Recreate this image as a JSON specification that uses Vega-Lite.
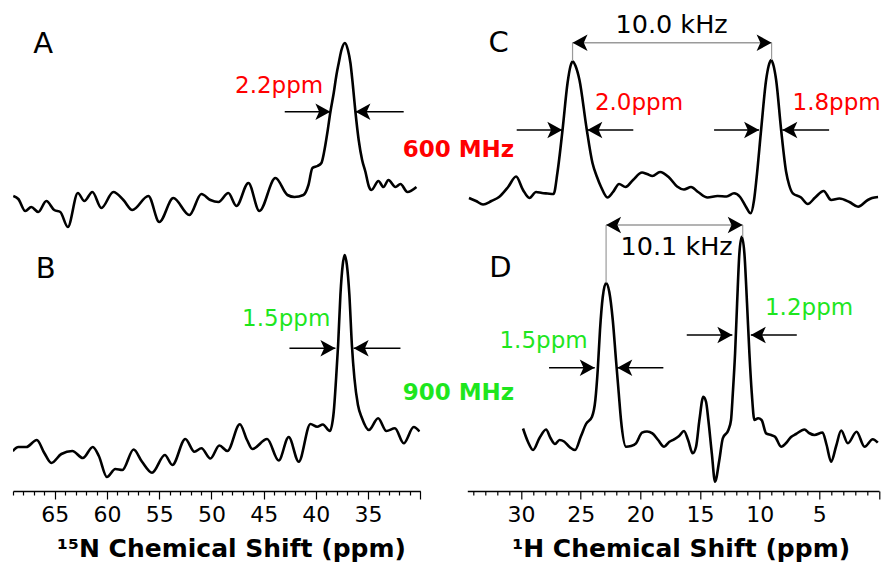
{
  "$schema": "https://vega.github.io/schema/vega-lite/v6.json",
  "background": "white",
  "padding": {"left": 12, "top": 11, "right": 5, "bottom": 5},
  "bounds": "flush",
  "spacing": 46.3,
  "config": {
    "view": {"stroke": null},
    "axis": {
      "domainColor": "black", "domainWidth": 1.5, "tickColor": "black", "tickWidth": 1.2,
      "labelFont": "DejaVu Sans", "labelFontSize": 22, "labelColor": "black",
      "titleFont": "DejaVu Sans", "titleFontSize": 25, "titleFontWeight": "bold", "titleColor": "black",
      "grid": false, "labelFlush": false, "labelOverlap": false, "labelPadding": 5
    }
  },
  "datasets": {
    "specL": [
      {"panel":"A","ppm":68.97,"inten":295},{"panel":"A","ppm":68.49,"inten":292},{"panel":"A","ppm":67.82,"inten":280},{"panel":"A","ppm":67.25,"inten":284},{"panel":"A","ppm":66.58,"inten":279},{"panel":"A","ppm":65.81,"inten":290},{"panel":"A","ppm":65.05,"inten":281},{"panel":"A","ppm":64.47,"inten":279},{"panel":"A","ppm":63.75,"inten":264},{"panel":"A","ppm":62.79,"inten":298},{"panel":"A","ppm":62.17,"inten":290},{"panel":"A","ppm":61.40,"inten":299},{"panel":"A","ppm":60.54,"inten":283},{"panel":"A","ppm":59.39,"inten":299},{"panel":"A","ppm":58.43,"inten":291},{"panel":"A","ppm":57.57,"inten":281},{"panel":"A","ppm":56.04,"inten":295},{"panel":"A","ppm":54.99,"inten":269},{"panel":"A","ppm":53.65,"inten":293},{"panel":"A","ppm":52.11,"inten":276},{"panel":"A","ppm":50.96,"inten":297},{"panel":"A","ppm":50.10,"inten":291},{"panel":"A","ppm":49.33,"inten":289},{"panel":"A","ppm":48.38,"inten":298},{"panel":"A","ppm":47.61,"inten":285},{"panel":"A","ppm":46.46,"inten":308},{"panel":"A","ppm":45.41,"inten":280},{"panel":"A","ppm":43.87,"inten":313},{"panel":"A","ppm":42.72,"inten":296},{"panel":"A","ppm":42.05,"inten":294},{"panel":"A","ppm":41.19,"inten":296},{"panel":"A","ppm":40.71,"inten":306},{"panel":"A","ppm":40.33,"inten":323},{"panel":"A","ppm":39.85,"inten":325},{"panel":"A","ppm":39.47,"inten":328},{"panel":"A","ppm":39.23,"inten":338},{"panel":"A","ppm":38.89,"inten":359},{"panel":"A","ppm":38.61,"inten":379},{"panel":"A","ppm":38.29,"inten":398},{"panel":"A","ppm":38.03,"inten":416},{"panel":"A","ppm":37.81,"inten":428},{"panel":"A","ppm":37.55,"inten":441},{"panel":"A","ppm":37.22,"inten":448},{"panel":"A","ppm":36.93,"inten":441},{"panel":"A","ppm":36.69,"inten":428},{"panel":"A","ppm":36.45,"inten":405},{"panel":"A","ppm":36.21,"inten":379},{"panel":"A","ppm":35.90,"inten":351},{"panel":"A","ppm":35.57,"inten":331},{"panel":"A","ppm":35.25,"inten":319},{"panel":"A","ppm":34.94,"inten":305},{"panel":"A","ppm":34.68,"inten":301},{"panel":"A","ppm":34.01,"inten":310},{"panel":"A","ppm":33.53,"inten":304},{"panel":"A","ppm":33.05,"inten":311},{"panel":"A","ppm":32.38,"inten":304},{"panel":"A","ppm":31.90,"inten":307},{"panel":"A","ppm":31.23,"inten":299},{"panel":"A","ppm":30.37,"inten":304},
      {"panel":"B","ppm":69.02,"inten":40},{"panel":"B","ppm":68.49,"inten":44},{"panel":"B","ppm":67.73,"inten":44},{"panel":"B","ppm":66.72,"inten":51},{"panel":"B","ppm":66.00,"inten":38},{"panel":"B","ppm":65.33,"inten":28},{"panel":"B","ppm":64.37,"inten":37},{"panel":"B","ppm":63.32,"inten":40},{"panel":"B","ppm":62.31,"inten":33},{"panel":"B","ppm":61.36,"inten":44},{"panel":"B","ppm":60.78,"inten":35},{"panel":"B","ppm":60.01,"inten":14},{"panel":"B","ppm":59.20,"inten":22},{"panel":"B","ppm":58.53,"inten":21},{"panel":"B","ppm":57.45,"inten":41.5},{"panel":"B","ppm":56.66,"inten":29.5},{"panel":"B","ppm":55.69,"inten":18.3},{"panel":"B","ppm":54.46,"inten":36},{"panel":"B","ppm":53.74,"inten":26},{"panel":"B","ppm":52.50,"inten":52},{"panel":"B","ppm":51.63,"inten":39.3},{"panel":"B","ppm":50.96,"inten":42.7},{"panel":"B","ppm":50.10,"inten":32.5},{"panel":"B","ppm":49.24,"inten":45.5},{"panel":"B","ppm":48.47,"inten":40},{"panel":"B","ppm":47.28,"inten":66.7},{"panel":"B","ppm":46.59,"inten":51},{"panel":"B","ppm":46.08,"inten":42},{"panel":"B","ppm":44.67,"inten":52},{"panel":"B","ppm":43.56,"inten":30.5},{"panel":"B","ppm":42.60,"inten":54},{"panel":"B","ppm":41.64,"inten":29.3},{"panel":"B","ppm":40.52,"inten":67},{"panel":"B","ppm":39.88,"inten":64.3},{"panel":"B","ppm":39.33,"inten":66.5},{"panel":"B","ppm":38.66,"inten":60},{"panel":"B","ppm":38.29,"inten":79},{"panel":"B","ppm":38.06,"inten":113},{"panel":"B","ppm":37.87,"inten":146},{"panel":"B","ppm":37.65,"inten":196},{"panel":"B","ppm":37.43,"inten":226},{"panel":"B","ppm":37.24,"inten":236},{"panel":"B","ppm":37.03,"inten":226},{"panel":"B","ppm":36.79,"inten":196},{"panel":"B","ppm":36.55,"inten":146},{"panel":"B","ppm":36.31,"inten":113},{"panel":"B","ppm":35.97,"inten":86},{"panel":"B","ppm":35.59,"inten":73},{"panel":"B","ppm":34.92,"inten":61},{"panel":"B","ppm":34.04,"inten":72.7},{"panel":"B","ppm":33.24,"inten":60},{"panel":"B","ppm":32.43,"inten":62.7},{"panel":"B","ppm":31.59,"inten":47.7},{"panel":"B","ppm":30.63,"inten":64},{"panel":"B","ppm":30.08,"inten":59.5}
    ],
    "specR": [
      {"panel":"C","ppm":34.36,"inten":293},{"panel":"C","ppm":33.77,"inten":290},{"panel":"C","ppm":33.18,"inten":286.5},{"panel":"C","ppm":32.48,"inten":290},{"panel":"C","ppm":31.84,"inten":294},{"panel":"C","ppm":31.08,"inten":304},{"panel":"C","ppm":30.41,"inten":314.5},{"panel":"C","ppm":29.83,"inten":301},{"panel":"C","ppm":29.29,"inten":293},{"panel":"C","ppm":28.74,"inten":299},{"panel":"C","ppm":28.24,"inten":298},{"panel":"C","ppm":27.78,"inten":297.5},{"panel":"C","ppm":27.27,"inten":297},{"panel":"C","ppm":26.94,"inten":319},{"panel":"C","ppm":26.52,"inten":361},{"panel":"C","ppm":26.10,"inten":408},{"panel":"C","ppm":25.85,"inten":425},{"panel":"C","ppm":25.66,"inten":429.5},{"panel":"C","ppm":25.43,"inten":425},{"panel":"C","ppm":25.10,"inten":411},{"panel":"C","ppm":24.51,"inten":363},{"panel":"C","ppm":24.01,"inten":328},{"panel":"C","ppm":23.63,"inten":314},{"panel":"C","ppm":23.29,"inten":304},{"panel":"C","ppm":22.75,"inten":293.5},{"panel":"C","ppm":22.29,"inten":299},{"panel":"C","ppm":21.78,"inten":307},{"panel":"C","ppm":21.24,"inten":304},{"panel":"C","ppm":20.61,"inten":311},{"panel":"C","ppm":19.86,"inten":318.5},{"panel":"C","ppm":19.44,"inten":317},{"panel":"C","ppm":18.98,"inten":315},{"panel":"C","ppm":18.35,"inten":319},{"panel":"C","ppm":17.59,"inten":313.5},{"panel":"C","ppm":16.92,"inten":304.5},{"panel":"C","ppm":16.34,"inten":301.5},{"panel":"C","ppm":15.75,"inten":304},{"panel":"C","ppm":15.16,"inten":299},{"panel":"C","ppm":14.37,"inten":293.5},{"panel":"C","ppm":13.53,"inten":295},{"panel":"C","ppm":12.77,"inten":294.5},{"panel":"C","ppm":12.15,"inten":297.7},{"panel":"C","ppm":11.64,"inten":294},{"panel":"C","ppm":11.14,"inten":284},{"panel":"C","ppm":10.76,"inten":277.7},{"panel":"C","ppm":10.47,"inten":291},{"panel":"C","ppm":10.26,"inten":313},{"panel":"C","ppm":9.88,"inten":361},{"panel":"C","ppm":9.46,"inten":411},{"panel":"C","ppm":9.25,"inten":425},{"panel":"C","ppm":9.04,"inten":431},{"panel":"C","ppm":8.83,"inten":425},{"panel":"C","ppm":8.62,"inten":411},{"panel":"C","ppm":8.20,"inten":361},{"panel":"C","ppm":7.78,"inten":319},{"panel":"C","ppm":7.53,"inten":306},{"panel":"C","ppm":7.22,"inten":297.7},{"panel":"C","ppm":6.53,"inten":293.5},{"panel":"C","ppm":5.97,"inten":287},{"panel":"C","ppm":5.35,"inten":293.5},{"panel":"C","ppm":4.64,"inten":300},{"panel":"C","ppm":4.01,"inten":291},{"panel":"C","ppm":3.32,"inten":292.5},{"panel":"C","ppm":2.48,"inten":289},{"panel":"C","ppm":1.75,"inten":284.3},{"panel":"C","ppm":0.94,"inten":291},{"panel":"C","ppm":0.58,"inten":293},{"panel":"C","ppm":0.08,"inten":294},
      {"panel":"D","ppm":29.83,"inten":62.5},{"panel":"D","ppm":29.41,"inten":49},{"panel":"D","ppm":28.99,"inten":41},{"panel":"D","ppm":28.45,"inten":53},{"panel":"D","ppm":27.90,"inten":61.5},{"panel":"D","ppm":27.53,"inten":53},{"panel":"D","ppm":27.15,"inten":47},{"panel":"D","ppm":26.77,"inten":51},{"panel":"D","ppm":26.39,"inten":49.5},{"panel":"D","ppm":25.93,"inten":44},{"panel":"D","ppm":25.47,"inten":41},{"panel":"D","ppm":24.97,"inten":55},{"panel":"D","ppm":24.55,"inten":67},{"panel":"D","ppm":24.05,"inten":74.3},{"panel":"D","ppm":23.77,"inten":91},{"panel":"D","ppm":23.57,"inten":121},{"panel":"D","ppm":23.38,"inten":161},{"panel":"D","ppm":23.15,"inten":194},{"panel":"D","ppm":22.87,"inten":208},{"panel":"D","ppm":22.60,"inten":199},{"panel":"D","ppm":22.31,"inten":171},{"panel":"D","ppm":22.04,"inten":131},{"panel":"D","ppm":21.81,"inten":98},{"panel":"D","ppm":21.62,"inten":71},{"panel":"D","ppm":21.20,"inten":44.3},{"panel":"D","ppm":20.78,"inten":45},{"panel":"D","ppm":20.36,"inten":47.7},{"panel":"D","ppm":19.86,"inten":58.3},{"panel":"D","ppm":19.44,"inten":59.5},{"panel":"D","ppm":18.99,"inten":57.7},{"panel":"D","ppm":18.51,"inten":51},{"panel":"D","ppm":18.01,"inten":44.3},{"panel":"D","ppm":17.59,"inten":49},{"panel":"D","ppm":17.17,"inten":51.7},{"panel":"D","ppm":16.75,"inten":55},{"panel":"D","ppm":16.34,"inten":60},{"panel":"D","ppm":16.00,"inten":51},{"panel":"D","ppm":15.61,"inten":37.7},{"panel":"D","ppm":15.33,"inten":44.3},{"panel":"D","ppm":15.05,"inten":71},{"panel":"D","ppm":14.72,"inten":94.3},{"panel":"D","ppm":14.49,"inten":89},{"panel":"D","ppm":14.30,"inten":71},{"panel":"D","ppm":14.01,"inten":37.7},{"panel":"D","ppm":13.74,"inten":9.3},{"panel":"D","ppm":13.38,"inten":31},{"panel":"D","ppm":13.09,"inten":52.7},{"panel":"D","ppm":12.62,"inten":61},{"panel":"D","ppm":12.40,"inten":71},{"panel":"D","ppm":12.25,"inten":97.7},{"panel":"D","ppm":12.06,"inten":137.7},{"panel":"D","ppm":11.89,"inten":187.7},{"panel":"D","ppm":11.70,"inten":237.7},{"panel":"D","ppm":11.50,"inten":254.3},{"panel":"D","ppm":11.28,"inten":237.7},{"panel":"D","ppm":11.06,"inten":187.7},{"panel":"D","ppm":10.86,"inten":137.7},{"panel":"D","ppm":10.66,"inten":97.7},{"panel":"D","ppm":10.44,"inten":71},{"panel":"D","ppm":10.13,"inten":72.7},{"panel":"D","ppm":9.84,"inten":71},{"panel":"D","ppm":9.46,"inten":57.7},{"panel":"D","ppm":9.04,"inten":56},{"panel":"D","ppm":8.71,"inten":54.3},{"panel":"D","ppm":8.20,"inten":44.3},{"panel":"D","ppm":7.78,"inten":48},{"panel":"D","ppm":7.37,"inten":54},{"panel":"D","ppm":6.95,"inten":57},{"panel":"D","ppm":6.25,"inten":61.5},{"panel":"D","ppm":5.86,"inten":58},{"panel":"D","ppm":5.41,"inten":56},{"panel":"D","ppm":4.73,"inten":58.5},{"panel":"D","ppm":4.39,"inten":46},{"panel":"D","ppm":4.01,"inten":29.3},{"panel":"D","ppm":3.59,"inten":45},{"panel":"D","ppm":3.17,"inten":60.5},{"panel":"D","ppm":2.61,"inten":47.7},{"panel":"D","ppm":1.88,"inten":59.3},{"panel":"D","ppm":1.21,"inten":44.3},{"panel":"D","ppm":0.52,"inten":51.7},{"panel":"D","ppm":0.10,"inten":48.3}
    ],
    "shaftL": [
      {"ppm":42.98,"ppm2":38.61,"inten":379.3},{"ppm":31.59,"ppm2":36.21,"inten":379.3},
      {"ppm":42.53,"ppm2":38.13,"inten":142.7},{"ppm":31.90,"ppm2":36.38,"inten":142.7}
    ],
    "headL": [
      {"ppm":38.61,"inten":379.3,"dir":"right"},{"ppm":36.21,"inten":379.3,"dir":"left"},
      {"ppm":38.13,"inten":142.7,"dir":"right"},{"ppm":36.38,"inten":142.7,"dir":"left"}
    ],
    "shaftR": [
      {"ppm":30.36,"ppm2":26.54,"inten":361},{"ppm":20.59,"ppm2":24.44,"inten":361},
      {"ppm":13.82,"ppm2":10.05,"inten":361},{"ppm":4.18,"ppm2":8.10,"inten":361},
      {"ppm":27.65,"ppm2":23.82,"inten":123.3},{"ppm":18.07,"ppm2":21.93,"inten":123.3},
      {"ppm":16.11,"ppm2":12.29,"inten":156},{"ppm":6.89,"ppm2":10.74,"inten":156}
    ],
    "headR": [
      {"ppm":26.54,"inten":361,"dir":"right"},{"ppm":24.44,"inten":361,"dir":"left"},
      {"ppm":10.05,"inten":361,"dir":"right"},{"ppm":8.10,"inten":361,"dir":"left"},
      {"ppm":23.82,"inten":123.3,"dir":"right"},{"ppm":21.93,"inten":123.3,"dir":"left"},
      {"ppm":12.29,"inten":156,"dir":"right"},{"ppm":10.74,"inten":156,"dir":"left"},
      {"ppm":25.68,"inten":448.3,"dir":"left"},{"ppm":9.0,"inten":448.3,"dir":"right"},
      {"ppm":22.87,"inten":266,"dir":"left"},{"ppm":11.42,"inten":266,"dir":"right"}
    ],
    "khzLine": [
      {"ppm":25.68,"ppm2":9.0,"inten":448.3},{"ppm":22.87,"ppm2":11.42,"inten":266}
    ],
    "khzDrop": [
      {"ppm":25.68,"inten":448.3,"inten2":430},{"ppm":9.0,"inten":448.3,"inten2":431},
      {"ppm":22.87,"inten":266,"inten2":208},{"ppm":11.42,"inten":266,"inten2":254}
    ],
    "textL": [
      {"text":"A","ppm":66.10,"inten":437.7,"role":"panel","mhz":"none"},
      {"text":"B","ppm":65.86,"inten":213,"role":"panel","mhz":"none"},
      {"text":"2.2ppm","ppm":43.52,"inten":398,"role":"width","mhz":"600 MHz"},
      {"text":"1.5ppm","ppm":42.84,"inten":165,"role":"width","mhz":"900 MHz"},
      {"text":"600 MHz","ppm":26.35,"inten":334.3,"role":"field","mhz":"600 MHz"},
      {"text":"900 MHz","ppm":26.35,"inten":91,"role":"field","mhz":"900 MHz"}
    ],
    "textR": [
      {"text":"C","ppm":31.88,"inten":439.3,"role":"panel","mhz":"none"},
      {"text":"D","ppm":31.72,"inten":214,"role":"panel","mhz":"none"},
      {"text":"2.0ppm","ppm":20.11,"inten":381,"role":"width","mhz":"600 MHz"},
      {"text":"1.8ppm","ppm":3.55,"inten":381,"role":"width","mhz":"600 MHz"},
      {"text":"1.5ppm","ppm":28.11,"inten":142.7,"role":"width","mhz":"900 MHz"},
      {"text":"1.2ppm","ppm":5.86,"inten":176,"role":"width","mhz":"900 MHz"},
      {"text":"10.0 kHz","ppm":17.38,"inten":457.7,"role":"coupling","mhz":"none"},
      {"text":"10.1 kHz","ppm":16.96,"inten":236,"role":"coupling","mhz":"none"}
    ]
  },
  "hconcat": [
    {
      "width": 407.3,
      "height": 480,
      "encoding": {
        "x": {"field": "ppm", "type": "quantitative",
          "scale": {"domain": [30, 69], "reverse": true, "nice": false, "zero": false},
          "axis": {
            "orient": "bottom",
            "values": [30,31,32,33,34,35,36,37,38,39,40,41,42,43,44,45,46,47,48,49,50,51,52,53,54,55,56,57,58,59,60,61,62,63,64,65,66,67,68,69],
            "tickSize": {"condition": {"test": "datum.value % 5 === 0", "value": 8}, "value": 4},
            "labelExpr": "(datum.value % 5 === 0 && datum.value >= 35 && datum.value <= 65) ? datum.label : ''",
            "title": "¹⁵N Chemical Shift (ppm)",
            "titleX": 218, "titleY": 65.7, "titleAlign": "center", "titleBaseline": "alphabetic"
          }
        },
        "y": {"field": "inten", "type": "quantitative", "scale": {"domain": [0, 480], "nice": false, "zero": false}, "axis": null}
      },
      "layer": [
        {"data": {"name": "specL"}, "mark": {"type": "line", "interpolate": "monotone", "color": "black", "strokeWidth": 2.6, "strokeJoin": "round", "clip": true}, "encoding": {"detail": {"field": "panel"}}},
        {"data": {"name": "shaftL"}, "mark": {"type": "rule", "color": "black", "strokeWidth": 1.5}, "encoding": {"x2": {"field": "ppm2"}}},
        {"data": {"name": "headL"}, "mark": {"type": "point", "filled": true, "size": 225, "opacity": 1, "color": "black"},
          "encoding": {"shape": {"field": "dir", "type": "nominal", "scale": {"domain": ["right", "left"], "range": ["M0,0L-2,-1.1L-1.5,0L-2,1.1Z", "M0,0L2,-1.1L1.5,0L2,1.1Z"]}, "legend": null}}},
        {"data": {"name": "textL"}, "transform": [{"filter": "datum.role === 'panel'"}],
          "mark": {"type": "text", "font": "DejaVu Sans", "fontSize": 29, "align": "center", "baseline": "alphabetic"},
          "encoding": {"text": {"field": "text"}, "color": {"field": "mhz", "type": "nominal", "scale": {"domain": ["600 MHz", "900 MHz", "none"], "range": ["#ff0000", "#1ee61e", "#000000"]}, "legend": null}}},
        {"data": {"name": "textL"}, "transform": [{"filter": "datum.role === 'width'"}],
          "mark": {"type": "text", "font": "DejaVu Sans", "fontSize": 23, "align": "center", "baseline": "alphabetic"},
          "encoding": {"text": {"field": "text"}, "color": {"field": "mhz", "type": "nominal", "scale": {"domain": ["600 MHz", "900 MHz", "none"], "range": ["#ff0000", "#1ee61e", "#000000"]}, "legend": null}}},
        {"data": {"name": "textL"}, "transform": [{"filter": "datum.role === 'field'"}],
          "mark": {"type": "text", "font": "DejaVu Sans", "fontSize": 23, "fontWeight": "bold", "align": "center", "baseline": "alphabetic"},
          "encoding": {"text": {"field": "text"}, "color": {"field": "mhz", "type": "nominal", "scale": {"domain": ["600 MHz", "900 MHz", "none"], "range": ["#ff0000", "#1ee61e", "#000000"]}, "legend": null}}}
      ]
    },
    {
      "width": 411.7,
      "height": 480,
      "encoding": {
        "x": {"field": "ppm", "type": "quantitative",
          "scale": {"domain": [0, 34.5], "reverse": true, "nice": false, "zero": false},
          "axis": {
            "orient": "bottom",
            "values": [0,1,2,3,4,5,6,7,8,9,10,11,12,13,14,15,16,17,18,19,20,21,22,23,24,25,26,27,28,29,30,31,32,33,34],
            "tickSize": {"condition": {"test": "datum.value % 5 === 0", "value": 8}, "value": 4},
            "labelExpr": "(datum.value % 5 === 0 && datum.value >= 5 && datum.value <= 30) ? datum.label : ''",
            "title": "¹H Chemical Shift (ppm)",
            "titleX": 213.4, "titleY": 65.7, "titleAlign": "center", "titleBaseline": "alphabetic"
          }
        },
        "y": {"field": "inten", "type": "quantitative", "scale": {"domain": [0, 480], "nice": false, "zero": false}, "axis": null}
      },
      "layer": [
        {"data": {"name": "specR"}, "mark": {"type": "line", "interpolate": "monotone", "color": "black", "strokeWidth": 2.6, "strokeJoin": "round", "clip": true}, "encoding": {"detail": {"field": "panel"}}},
        {"data": {"name": "khzLine"}, "mark": {"type": "rule", "color": "#9a9a9a", "strokeWidth": 1.5}, "encoding": {"x2": {"field": "ppm2"}}},
        {"data": {"name": "khzDrop"}, "mark": {"type": "rule", "color": "#9a9a9a", "strokeWidth": 1.2}, "encoding": {"y2": {"field": "inten2"}}},
        {"data": {"name": "shaftR"}, "mark": {"type": "rule", "color": "black", "strokeWidth": 1.5}, "encoding": {"x2": {"field": "ppm2"}}},
        {"data": {"name": "headR"}, "mark": {"type": "point", "filled": true, "size": 225, "opacity": 1, "color": "black"},
          "encoding": {"shape": {"field": "dir", "type": "nominal", "scale": {"domain": ["right", "left"], "range": ["M0,0L-2,-1.1L-1.5,0L-2,1.1Z", "M0,0L2,-1.1L1.5,0L2,1.1Z"]}, "legend": null}}},
        {"data": {"name": "textR"}, "transform": [{"filter": "datum.role === 'panel'"}],
          "mark": {"type": "text", "font": "DejaVu Sans", "fontSize": 29, "align": "center", "baseline": "alphabetic"},
          "encoding": {"text": {"field": "text"}, "color": {"field": "mhz", "type": "nominal", "scale": {"domain": ["600 MHz", "900 MHz", "none"], "range": ["#ff0000", "#1ee61e", "#000000"]}, "legend": null}}},
        {"data": {"name": "textR"}, "transform": [{"filter": "datum.role === 'width'"}],
          "mark": {"type": "text", "font": "DejaVu Sans", "fontSize": 23, "align": "center", "baseline": "alphabetic"},
          "encoding": {"text": {"field": "text"}, "color": {"field": "mhz", "type": "nominal", "scale": {"domain": ["600 MHz", "900 MHz", "none"], "range": ["#ff0000", "#1ee61e", "#000000"]}, "legend": null}}},
        {"data": {"name": "textR"}, "transform": [{"filter": "datum.role === 'coupling'"}],
          "mark": {"type": "text", "font": "DejaVu Sans", "fontSize": 25.5, "align": "center", "baseline": "alphabetic"},
          "encoding": {"text": {"field": "text"}, "color": {"field": "mhz", "type": "nominal", "scale": {"domain": ["600 MHz", "900 MHz", "none"], "range": ["#ff0000", "#1ee61e", "#000000"]}, "legend": null}}}
      ]
    }
  ]
}
